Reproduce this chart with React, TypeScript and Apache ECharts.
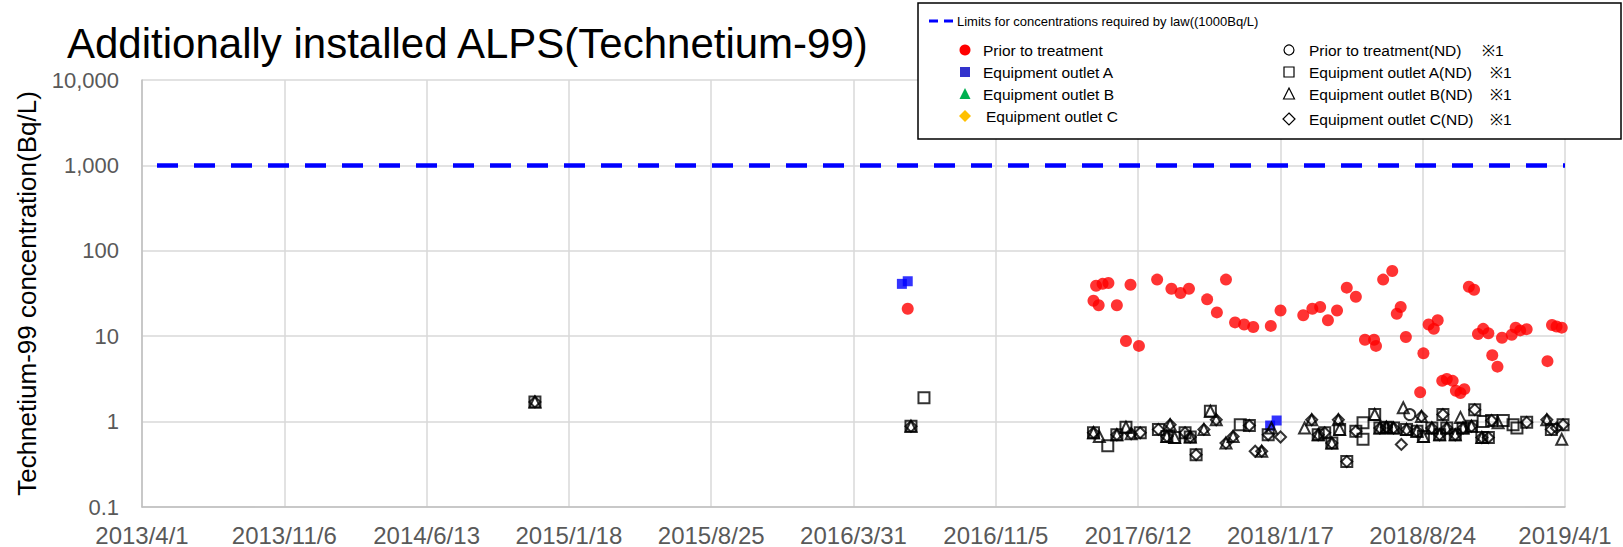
import React, { useEffect, useRef } from "react";
import * as echarts from "echarts";

// x values are days since 2013/4/1
const tickLabels = [
  "2013/4/1", "2013/11/6", "2014/6/13", "2015/1/18", "2015/8/25", "2016/3/31",
  "2016/11/5", "2017/6/12", "2018/1/17", "2018/8/24", "2019/4/1",
];
const dayMax = 2191; // 2013/4/1 -> 2019/4/1
const tickStep = dayMax / 10;
const limitValue = 1000;
const limitDays = [0, dayMax];

const priorTreatment: [number, number][] = [
  [1179, 21], [1465, 26], [1469, 39], [1473, 23], [1479, 41], [1488, 42], [1501, 23],
  [1515, 8.8], [1522, 40], [1535, 7.7], [1563, 46], [1585, 36], [1599, 32], [1612, 36],
  [1640, 27], [1655, 19], [1669, 46], [1683, 14.5], [1697, 13.7], [1711, 12.8], [1738, 13.2],
  [1753, 20], [1788, 17.6], [1802, 21], [1814, 22], [1826, 15.4], [1840, 20], [1855, 37],
  [1869, 29], [1883, 9.1], [1897, 9.1], [1900, 7.7], [1911, 46], [1925, 58], [1932, 18.3],
  [1938, 22], [1946, 9.8], [1968, 2.2], [1973, 6.3], [1981, 13.7], [1989, 12.2], [1995, 15.4],
  [2002, 3.0], [2009, 3.15], [2018, 3.0], [2023, 2.3], [2030, 2.16], [2036, 2.4], [2043, 38],
  [2051, 35], [2057, 10.6], [2065, 12.2], [2073, 10.8], [2079, 6.0], [2087, 4.4], [2094, 9.6],
  [2109, 10.4], [2115, 12.6], [2122, 11.7], [2132, 12.1], [2164, 5.1], [2171, 13.5],
  [2178, 13.0], [2186, 12.6],
];
const outletA: [number, number][] = [[1170, 41], [1179, 44], [1737, 0.9], [1747, 1.03]];
const outletB: [number, number][] = [];
const outletC: [number, number][] = [];

const priorND: [number, number][] = [[1952, 1.21]];
const outletAND: [number, number][] = [
  [605, 1.7], [1184, 0.88], [1204, 1.9], [1465, 0.74], [1487, 0.52], [1501, 0.7], [1515, 0.86],
  [1537, 0.74], [1565, 0.81], [1578, 0.67], [1590, 0.65], [1606, 0.74], [1614, 0.66], [1623, 0.41],
  [1645, 1.32], [1691, 0.92], [1705, 0.9], [1734, 0.7], [1811, 0.7], [1821, 0.74], [1832, 0.56],
  [1844, 0.81], [1855, 0.34], [1869, 0.77], [1880, 0.97], [1880, 0.62], [1898, 1.21], [1906, 0.84],
  [1916, 0.86], [1927, 0.84], [1947, 0.81], [1963, 0.77], [1973, 0.67], [1986, 0.84], [1998, 0.7],
  [2003, 1.21], [2009, 0.84], [2022, 0.7], [2034, 0.84], [2047, 0.88], [2052, 1.38], [2063, 0.65],
  [2073, 0.65], [2065, 1.0], [2078, 1.03], [2096, 1.03], [2111, 0.92], [2117, 0.84], [2132, 0.98],
  [2170, 0.81], [2188, 0.92],
];
const outletBND: [number, number][] = [
  [605, 1.7], [1184, 0.88], [1465, 0.74], [1474, 0.67], [1501, 0.7], [1515, 0.86], [1523, 0.72],
  [1583, 0.92], [1578, 0.67], [1590, 0.65], [1614, 0.66], [1635, 0.81], [1645, 1.32], [1654, 1.05],
  [1669, 0.56], [1680, 0.67], [1724, 0.45], [1739, 0.84], [1790, 0.84], [1801, 1.05], [1811, 0.7],
  [1832, 0.56], [1842, 1.05], [1844, 0.81], [1898, 1.21], [1906, 0.84], [1916, 0.86], [1927, 0.84],
  [1942, 1.45], [1947, 0.81], [1963, 0.77], [1970, 1.15], [1973, 0.67], [1986, 0.84], [1998, 0.7],
  [2009, 0.84], [2022, 0.7], [2030, 1.12], [2034, 0.84], [2047, 0.88], [2063, 0.65], [2088, 0.97],
  [2163, 1.05], [2186, 0.62],
];
const outletCND: [number, number][] = [
  [605, 1.7], [1184, 0.88], [1465, 0.74], [1501, 0.7], [1523, 0.72], [1537, 0.74], [1565, 0.81],
  [1583, 0.92], [1578, 0.67], [1606, 0.74], [1614, 0.66], [1623, 0.41], [1635, 0.81], [1654, 1.05],
  [1669, 0.56], [1680, 0.67], [1705, 0.9], [1714, 0.45], [1724, 0.45], [1734, 0.7], [1753, 0.66],
  [1801, 1.05], [1811, 0.7], [1821, 0.74], [1832, 0.56], [1842, 1.05], [1855, 0.34], [1869, 0.77],
  [1906, 0.84], [1916, 0.86], [1927, 0.84], [1939, 0.54], [1947, 0.81], [1963, 0.77], [1970, 1.15],
  [1986, 0.84], [1998, 0.7], [2003, 1.21], [2009, 0.84], [2022, 0.7], [2034, 0.84], [2047, 0.88],
  [2052, 1.38], [2063, 0.65], [2073, 0.65], [2078, 1.03], [2132, 0.98], [2163, 1.05], [2170, 0.81],
  [2178, 0.84], [2188, 0.92],
];

const FONT = "'Liberation Sans', Arial, sans-serif";
const ndStyle = { color: "rgba(255,255,255,0)", borderColor: "#000", borderWidth: 2 };

export default function App() {
  const ref = useRef<HTMLDivElement>(null);
  useEffect(() => {
    if (!ref.current) return;
    const chart = echarts.init(ref.current, null, { renderer: "svg" });
    const legTxt = (x: number, y: number, text: string, size = 15.5) => ({
      type: "text", x, y, z: 101,
      style: { text, fontSize: size, fontFamily: FONT, fill: "#000", verticalAlign: "middle", align: "left" },
    });
    const c1 = 965, c2 = 1289;
    const rows = [50, 72, 94, 116];
    const rows2 = [50, 72, 94, 119];
    const tri = (cx: number, cy: number, s: number) => [[cx - s / 2, cy + s / 2 - 0.5], [cx, cy - s / 2 - 0.5], [cx + s / 2, cy + s / 2 - 0.5]];
    const dia = (cx: number, cy: number, s: number) => [[cx, cy - s / 2], [cx + s / 2, cy], [cx, cy + s / 2], [cx - s / 2, cy]];
    const ndLeg = { fill: "#fff", stroke: "#000", lineWidth: 1.2 };
    const option: any = {
      animation: false,
      textStyle: { fontFamily: FONT },
      title: {
        text: "Additionally installed ALPS(Technetium-99)",
        left: 67, top: 22, padding: 0,
        textStyle: { fontSize: 42, fontWeight: "normal", color: "#000", fontFamily: FONT },
      },
      grid: { left: 142, right: 58, top: 80, bottom: 39, containLabel: false },
      xAxis: {
        type: "value", min: 0, max: dayMax, interval: tickStep,
        axisLine: { show: true, lineStyle: { color: "#bfbfbf", width: 1.5 } },
        axisTick: { show: false },
        splitLine: { show: true, lineStyle: { color: "#d9d9d9", width: 1.5 } },
        axisLabel: {
          margin: 16, fontSize: 24, color: "#595959", fontFamily: FONT,
          formatter: (v: number) => tickLabels[Math.round(v / tickStep)] ?? "",
        },
      },
      yAxis: {
        type: "log", logBase: 10, min: 0.1, max: 10000,
        name: "Technetium-99 concentration(Bq/L)",
        nameLocation: "middle", nameGap: 102,
        nameTextStyle: { fontSize: 26, color: "#000", fontFamily: FONT },
        axisLine: { show: true, lineStyle: { color: "#bfbfbf", width: 1.5 } },
        axisTick: { show: false },
        splitLine: { show: true, lineStyle: { color: "#d9d9d9", width: 1.5 } },
        axisLabel: {
          margin: 23, fontSize: 22, color: "#595959", fontFamily: FONT,
          formatter: (v: number) => (v >= 1 ? Math.round(v).toLocaleString("en-US") : String(v)),
        },
      },
      series: [
        {
          name: "Limits for concentrations required by law((1000Bq/L)", type: "line",
          data: limitDays.map((d) => [d, limitValue]), symbol: "none", silent: true,
          lineStyle: { color: "#0000ff", width: 4.5, type: [21, 16], dashOffset: 22 },
        },
        { name: "Prior to treatment", type: "scatter", data: priorTreatment, symbol: "circle", symbolSize: 12, itemStyle: { color: "#ff0000" } },
        { name: "Equipment outlet A", type: "scatter", data: outletA, symbol: "rect", symbolSize: 10, itemStyle: { color: "#0000ff" } },
        { name: "Equipment outlet B", type: "scatter", data: outletB, symbol: "triangle", symbolSize: 10, itemStyle: { color: "#00b050" } },
        { name: "Equipment outlet C", type: "scatter", data: outletC, symbol: "diamond", symbolSize: 10, itemStyle: { color: "#ffc000" } },
        { name: "Prior to treatment(ND) ※1", type: "scatter", data: priorND, symbol: "circle", symbolSize: 11, itemStyle: ndStyle },
        { name: "Equipment outlet A(ND) ※1", type: "scatter", data: outletAND, symbol: "rect", symbolSize: 11, itemStyle: ndStyle },
        { name: "Equipment outlet B(ND) ※1", type: "scatter", data: outletBND, symbol: "triangle", symbolSize: 11, itemStyle: ndStyle },
        { name: "Equipment outlet C(ND) ※1", type: "scatter", data: outletCND, symbol: "diamond", symbolSize: 11, itemStyle: ndStyle },
      ],
      graphic: [
        { type: "rect", z: 100, shape: { x: 918, y: 3, width: 703, height: 136 }, style: { fill: "#fff", stroke: "#000", lineWidth: 1.5 } },
        { type: "line", z: 101, shape: { x1: 929, y1: 21, x2: 953, y2: 21 }, style: { stroke: "#0000ff", lineWidth: 3, lineDash: [9, 6] } },
        legTxt(957, 21, "Limits for concentrations required by law((1000Bq/L)", 13),
        { type: "circle", z: 101, shape: { cx: c1, cy: rows[0], r: 5.5 }, style: { fill: "#ff0000" } },
        legTxt(983, rows[0], "Prior to treatment"),
        { type: "rect", z: 101, shape: { x: c1 - 5, y: rows[1] - 5, width: 10, height: 10 }, style: { fill: "#3333cc" } },
        legTxt(983, rows[1], "Equipment outlet A"),
        { type: "polygon", z: 101, shape: { points: tri(c1, rows[2], 11) }, style: { fill: "#00b050" } },
        legTxt(983, rows[2], "Equipment outlet B"),
        { type: "polygon", z: 101, shape: { points: dia(c1, rows[3], 12) }, style: { fill: "#ffc000" } },
        legTxt(986, rows[3], "Equipment outlet C"),
        { type: "circle", z: 101, shape: { cx: c2, cy: rows2[0], r: 5 }, style: ndLeg },
        legTxt(1309, rows2[0], "Prior to treatment(ND)"),
        legTxt(1482, rows2[0], "※1"),
        { type: "rect", z: 101, shape: { x: c2 - 5, y: rows2[1] - 5, width: 10, height: 10 }, style: ndLeg },
        legTxt(1309, rows2[1], "Equipment outlet A(ND)"),
        legTxt(1490, rows2[1], "※1"),
        { type: "polygon", z: 101, shape: { points: tri(c2, rows2[2], 11) }, style: ndLeg },
        legTxt(1309, rows2[2], "Equipment outlet B(ND)"),
        legTxt(1490, rows2[2], "※1"),
        { type: "polygon", z: 101, shape: { points: dia(c2, rows2[3], 12) }, style: ndLeg },
        legTxt(1309, rows2[3], "Equipment outlet C(ND)"),
        legTxt(1490, rows2[3], "※1"),
      ],
    };
    chart.setOption(option);
    return () => chart.dispose();
  }, []);
  return <div ref={ref} style={{ position: "absolute", left: 0, top: 0, width: 1623, height: 547 }} />;
}
